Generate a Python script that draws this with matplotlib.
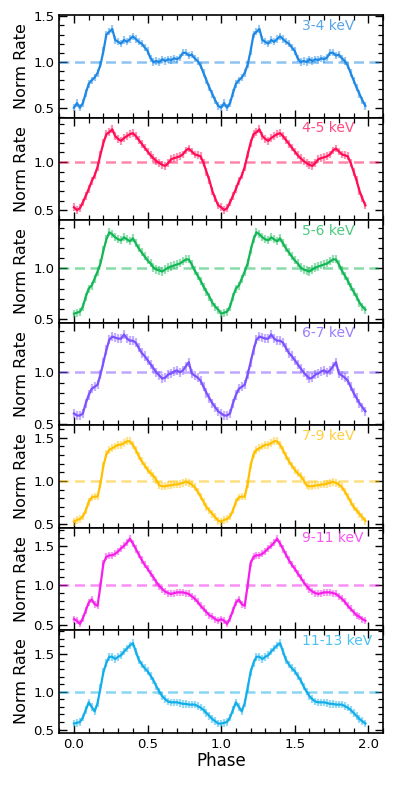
import numpy as np
import matplotlib
matplotlib.use("Agg")
import matplotlib.pyplot as plt
from matplotlib.ticker import MultipleLocator

# One pulse cycle (phase 0.00 .. 0.98, step 0.02); the plotted profile shows two cycles
phase_cycle = [round(0.02 * i, 2) for i in range(50)]

labels = ["3-4 keV", "4-5 keV", "5-6 keV", "6-7 keV", "7-9 keV", "9-11 keV", "11-13 keV"]
colors = ["#1E88E5", "#FF0D57", "#13B755", "#7C52FF", "#FFC000", "#F51EEB", "#12AEEA"]

rate_3_4 = [0.50, 0.55, 0.50, 0.55, 0.66, 0.76, 0.80, 0.83, 0.88, 0.97,
            1.12, 1.30, 1.33, 1.36, 1.24, 1.22, 1.20, 1.24, 1.22, 1.25,
            1.28, 1.25, 1.22, 1.20, 1.16, 1.12, 1.04, 1.00, 1.01, 1.00,
            1.03, 1.01, 1.03, 1.02, 1.04, 1.03, 1.05, 1.10, 1.10, 1.07,
            1.08, 1.04, 1.01, 0.96, 0.88, 0.80, 0.72, 0.65, 0.58, 0.52]
rate_4_5 = [0.53, 0.50, 0.52, 0.58, 0.65, 0.72, 0.80, 0.86, 0.95, 1.08,
            1.20, 1.29, 1.31, 1.34, 1.27, 1.24, 1.22, 1.25, 1.27, 1.29,
            1.30, 1.27, 1.23, 1.19, 1.15, 1.11, 1.07, 1.04, 1.01, 0.99,
            0.97, 0.96, 0.99, 1.03, 1.04, 1.05, 1.06, 1.08, 1.12, 1.14,
            1.11, 1.08, 1.07, 1.06, 0.99, 0.90, 0.81, 0.70, 0.62, 0.55]
rate_5_6 = [0.55, 0.56, 0.57, 0.62, 0.72, 0.80, 0.83, 0.90, 0.97, 1.05,
            1.18, 1.29, 1.36, 1.34, 1.31, 1.29, 1.28, 1.31, 1.29, 1.27,
            1.30, 1.25, 1.20, 1.16, 1.12, 1.08, 1.05, 1.01, 0.99, 0.98,
            0.97, 0.99, 1.01, 1.02, 1.03, 1.04, 1.05, 1.07, 1.09, 1.09,
            1.04, 0.98, 0.93, 0.88, 0.82, 0.77, 0.72, 0.66, 0.62, 0.59]
rate_6_7 = [0.60, 0.58, 0.58, 0.60, 0.70, 0.78, 0.84, 0.86, 0.88, 0.98,
            1.10, 1.22, 1.32, 1.35, 1.34, 1.33, 1.33, 1.37, 1.33, 1.31,
            1.31, 1.29, 1.24, 1.19, 1.16, 1.12, 1.08, 1.04, 1.00, 0.97,
            0.94, 0.95, 0.98, 0.99, 1.01, 1.02, 1.00, 1.02, 1.06, 1.10,
            0.99, 0.97, 0.95, 0.92, 0.86, 0.80, 0.75, 0.70, 0.66, 0.62]
rate_7_9 = [0.53, 0.55, 0.56, 0.59, 0.66, 0.76, 0.81, 0.82, 0.82, 0.97,
            1.18, 1.31, 1.36, 1.38, 1.40, 1.42, 1.42, 1.44, 1.46, 1.46,
            1.42, 1.36, 1.29, 1.23, 1.18, 1.13, 1.09, 1.06, 1.01, 0.95,
            0.94, 0.94, 0.95, 0.95, 0.96, 0.96, 0.97, 0.98, 0.99, 0.98,
            0.96, 0.93, 0.88, 0.82, 0.76, 0.70, 0.66, 0.62, 0.58, 0.54]
rate_9_11 = [0.57, 0.55, 0.51, 0.58, 0.68, 0.78, 0.82, 0.76, 0.74, 1.00,
             1.28, 1.36, 1.38, 1.38, 1.40, 1.43, 1.47, 1.50, 1.54, 1.59,
             1.53, 1.46, 1.39, 1.32, 1.26, 1.21, 1.15, 1.10, 1.04, 0.99,
             0.95, 0.92, 0.90, 0.89, 0.90, 0.91, 0.91, 0.91, 0.90, 0.89,
             0.86, 0.83, 0.79, 0.74, 0.70, 0.66, 0.62, 0.60, 0.57, 0.55]
rate_11_13 = [0.58, 0.59, 0.60, 0.66, 0.76, 0.86, 0.80, 0.74, 0.85, 1.05,
              1.26, 1.38, 1.46, 1.46, 1.43, 1.46, 1.48, 1.53, 1.57, 1.61,
              1.64, 1.53, 1.42, 1.36, 1.31, 1.27, 1.21, 1.15, 1.07, 1.00,
              0.94, 0.90, 0.87, 0.86, 0.86, 0.86, 0.85, 0.84, 0.84, 0.83,
              0.83, 0.83, 0.81, 0.79, 0.76, 0.72, 0.68, 0.64, 0.61, 0.58]

rate_err = [0.04, 0.04, 0.04, 0.045, 0.045, 0.045, 0.05]
ylims = [(0.39, 1.51), (0.395, 1.46), (0.46, 1.48), (0.485, 1.485),
         (0.46, 1.646), (0.43, 1.73), (0.46, 1.81)]

profiles = [rate_3_4, rate_4_5, rate_5_6, rate_6_7, rate_7_9, rate_9_11, rate_11_13]

phase = np.concatenate([np.array(phase_cycle), np.array(phase_cycle) + 1.0])

fig, axes = plt.subplots(7, 1, figsize=(3.99, 7.97), dpi=100, sharex=True)
fig.subplots_adjust(left=0.1486, right=0.96, top=0.9808, bottom=0.0807, hspace=0)

for ax, prof, lab, col, err, yl in zip(axes, profiles, labels, colors, rate_err, ylims):
    y = np.concatenate([np.array(prof), np.array(prof)])
    ax.errorbar(phase, y, yerr=err, color=col, ecolor=col, elinewidth=1.6,
                lw=1.6, capsize=0, zorder=3)
    for coll in ax.collections:
        coll.set_alpha(0.45)
    ax.axhline(1.0, color=col, alpha=0.5, lw=1.8, ls=(0, (4, 2.2)), zorder=2)
    ax.text(0.75, 0.965, lab, transform=ax.transAxes, ha="left", va="top",
            color=col, alpha=0.75, fontsize=10)
    ax.set_xlim(-0.1, 2.1)
    ax.set_ylim(*yl)
    ax.yaxis.set_major_locator(MultipleLocator(0.5))
    ax.yaxis.set_minor_locator(MultipleLocator(0.1))
    ax.xaxis.set_major_locator(MultipleLocator(0.5))
    ax.xaxis.set_minor_locator(MultipleLocator(0.1))
    ax.tick_params(which="both", direction="in", top=True, right=True, labelsize=9.5)
    ax.tick_params(which="major", length=6, width=1)
    ax.tick_params(which="minor", length=3.5, width=0.9)
    ax.set_ylabel("Norm Rate", fontsize=11.5, labelpad=3)
    for s in ax.spines.values():
        s.set_linewidth(1.2)

axes[-1].set_xlabel("Phase", fontsize=12, labelpad=1)
fig.align_ylabels(axes)
fig.savefig("out.png", dpi=100)
